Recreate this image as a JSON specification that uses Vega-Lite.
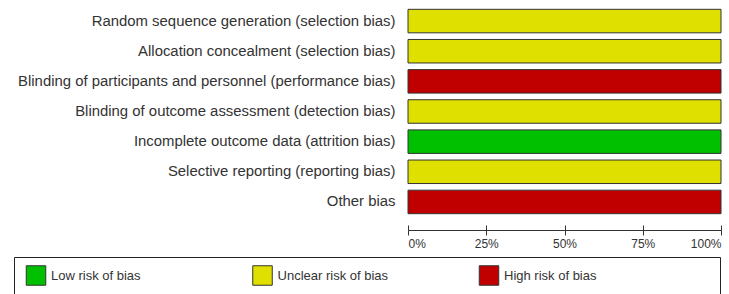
{
  "$schema": "https://vega.github.io/schema/vega-lite/v6.json",
  "padding": {"left": 13, "top": 6, "right": 8, "bottom": 0},
  "background": "white",
  "spacing": 7,
  "config": {
    "font": "Liberation Sans",
    "view": {"stroke": null}
  },
  "datasets": {
    "domains": [
      {"domain": "Random sequence generation (selection bias)", "risk": "Unclear risk of bias", "percent": 100},
      {"domain": "Allocation concealment (selection bias)", "risk": "Unclear risk of bias", "percent": 100},
      {"domain": "Blinding of participants and personnel (performance bias)", "risk": "High risk of bias", "percent": 100},
      {"domain": "Blinding of outcome assessment (detection bias)", "risk": "Unclear risk of bias", "percent": 100},
      {"domain": "Incomplete outcome data (attrition bias)", "risk": "Low risk of bias", "percent": 100},
      {"domain": "Selective reporting (reporting bias)", "risk": "Unclear risk of bias", "percent": 100},
      {"domain": "Other bias", "risk": "High risk of bias", "percent": 100}
    ],
    "levels": [
      {"risk": "Low risk of bias"},
      {"risk": "Unclear risk of bias"},
      {"risk": "High risk of bias"}
    ]
  },
  "vconcat": [
    {
      "spacing": 12,
      "hconcat": [
        {
          "width": 1,
          "height": 211,
          "data": {"name": "domains"},
          "mark": {"type": "point", "opacity": 0, "size": 0, "strokeWidth": 0},
          "encoding": {
            "y": {
              "field": "domain",
              "type": "nominal",
              "sort": null,
              "scale": {"paddingInner": 0.22, "paddingOuter": 0.11},
              "axis": {
                "title": null,
                "orient": "right",
                "domain": false,
                "ticks": false,
                "labelAlign": "right",
                "labelPadding": 380,
                "labelLimit": 0,
                "labelFontSize": 14.9,
                "labelColor": "#333333",
                "minExtent": 0
              }
            }
          }
        },
        {
          "width": 313,
          "height": 211,
          "data": {"name": "domains"},
          "encoding": {
            "y": {
              "field": "domain",
              "type": "nominal",
              "sort": null,
              "scale": {"paddingInner": 0.22, "paddingOuter": 0.11},
              "axis": null
            },
            "color": {
              "field": "risk",
              "type": "nominal",
              "scale": {
                "domain": ["Low risk of bias", "Unclear risk of bias", "High risk of bias"],
                "range": ["#00c000", "#e0e000", "#c00000"]
              },
              "legend": null
            }
          },
          "layer": [
            {
              "mark": {"type": "bar", "stroke": "#333333", "strokeWidth": 1},
              "encoding": {
                "x": {
                  "field": "percent",
                  "type": "quantitative",
                  "scale": {"domain": [0, 100], "nice": false},
                  "axis": {
                    "title": null,
                    "orient": "bottom",
                    "values": [0, 25, 50, 75, 100],
                    "labelExpr": "datum.value + '%'",
                    "offset": 13,
                    "domainColor": "#333333",
                    "tickColor": "#333333",
                    "tickSize": 5,
                    "labelPadding": 3,
                    "labelFontSize": 12,
                    "labelColor": "#333333",
                    "labelFlush": true,
                    "grid": false
                  }
                }
              }
            },
            {
              "mark": {"type": "bar", "opacity": 0},
              "encoding": {
                "x": {
                  "field": "percent",
                  "type": "quantitative",
                  "axis": {
                    "title": null,
                    "orient": "bottom",
                    "values": [0, 25, 50, 75, 100],
                    "offset": 8,
                    "domain": false,
                    "labels": false,
                    "tickColor": "#333333",
                    "tickSize": 5,
                    "grid": false
                  }
                }
              }
            }
          ],
          "resolve": {"axis": {"x": "independent"}}
        }
      ]
    },
    {
      "width": 706,
      "height": 37,
      "view": {"stroke": "#222222", "strokeWidth": 1},
      "data": {"name": "levels"},
      "encoding": {
        "x": {
          "field": "risk",
          "type": "nominal",
          "scale": {
            "type": "point",
            "domain": ["Low risk of bias", "Unclear risk of bias", "High risk of bias"],
            "padding": 0.5585,
            "align": 0.087
          },
          "axis": null
        }
      },
      "layer": [
        {
          "mark": {"type": "point", "shape": "square", "filled": true, "size": 380, "stroke": "#333333", "strokeWidth": 1, "opacity": 1},
          "encoding": {
            "color": {"field": "risk", "type": "nominal", "legend": null}
          }
        },
        {
          "mark": {"type": "text", "align": "left", "baseline": "middle", "dx": 15, "fontSize": 13, "color": "#333333"},
          "encoding": {"text": {"field": "risk"}}
        }
      ]
    }
  ]
}
